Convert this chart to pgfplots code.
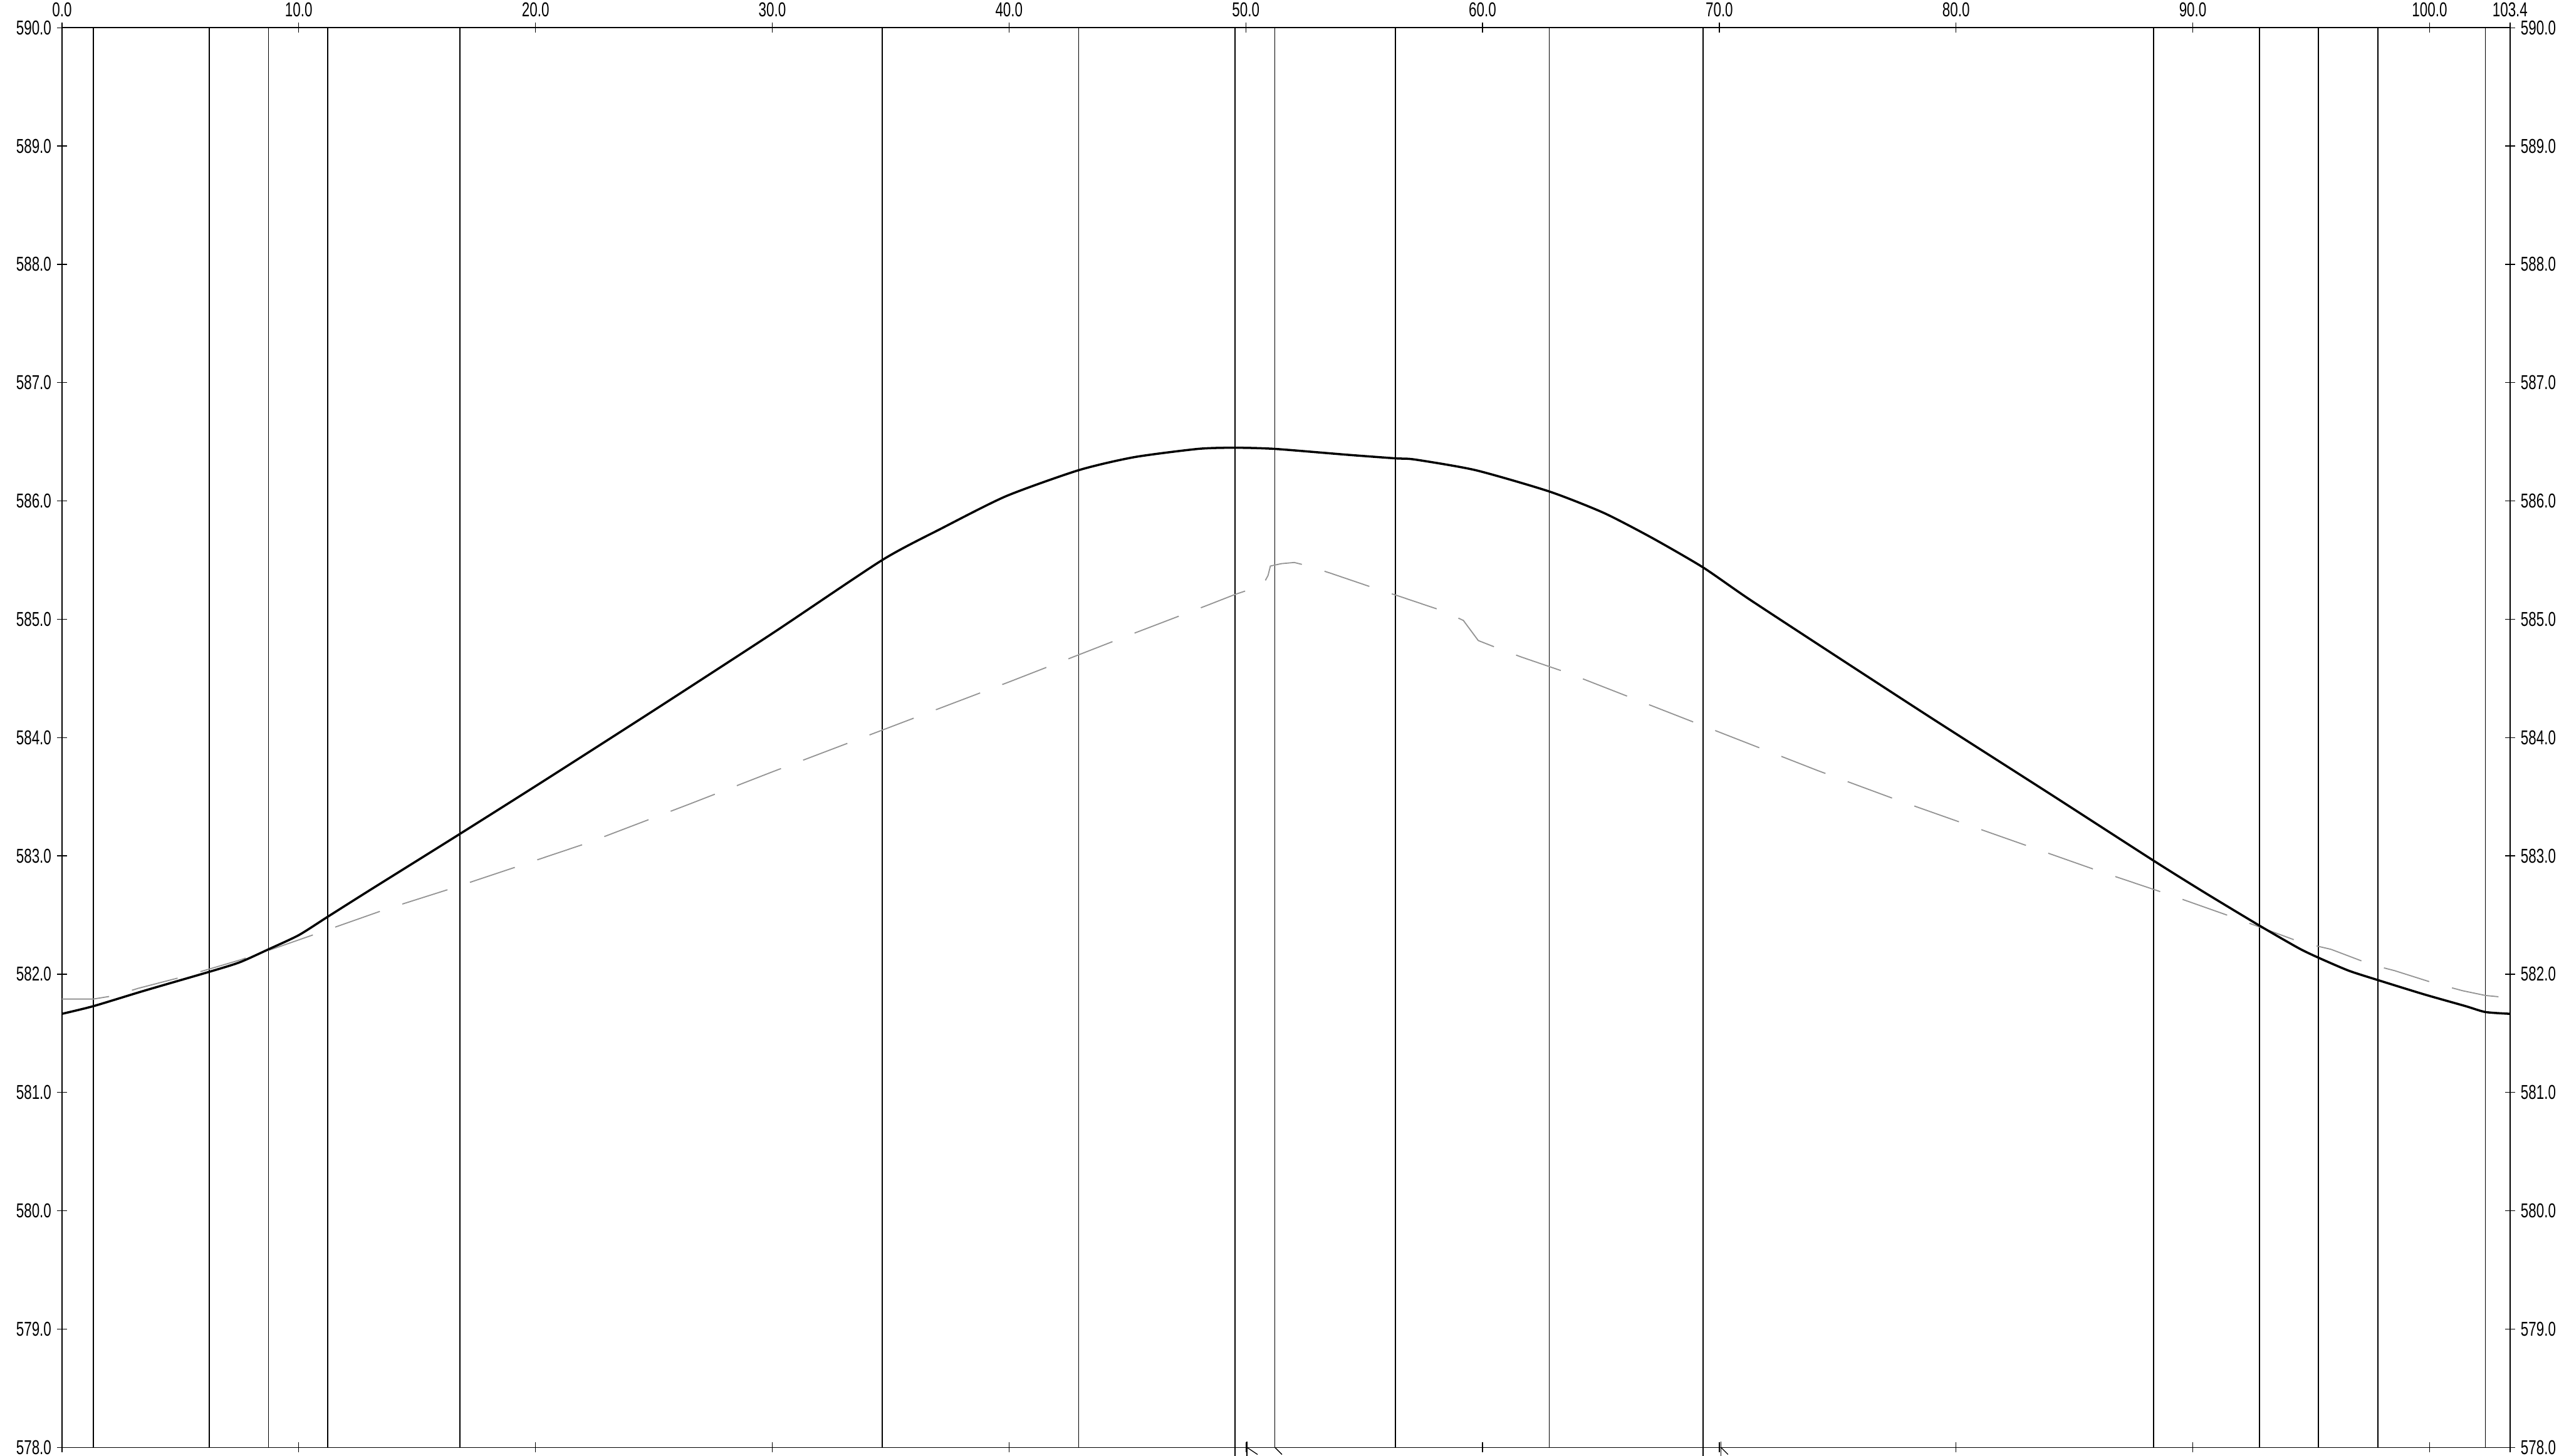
\documentclass[border=0pt]{standalone}
\usepackage{fontspec}
\setmainfont{Liberation Sans}[FakeStretch=0.7]
\usepackage{pgfplots}
\usepackage{pgfplotstable}
\pgfplotsset{compat=1.18}

\definecolor{groundgray}{gray}{0.58}

% station lines (x, from bottom to top, nan between)
\pgfplotstableread{
x y
1.33 578
1.33 590
nan nan
6.22 578
6.22 590
nan nan
8.72 578
8.72 590
nan nan
11.22 578
11.22 590
nan nan
16.80 578
16.80 590
nan nan
34.64 578
34.64 590
nan nan
42.94 578
42.94 590
nan nan
49.54 577.93
49.54 590
nan nan
51.23 578
51.23 590
nan nan
56.32 578
56.32 590
nan nan
62.82 578
62.82 590
nan nan
69.32 577.93
69.32 590
nan nan
88.34 578
88.34 590
nan nan
92.82 578
92.82 590
nan nan
95.31 578
95.31 590
nan nan
97.82 578
97.82 590
nan nan
102.36 578
102.36 590
}\stations

% existing ground (grey dashed)
\pgfplotstableread{
x y
0 581.79
1.33 581.79
2.25 581.82
3.21 581.88
5.14 581.98
7.52 582.12
9.00 582.22
10.86 582.35
13.70 582.55
16.54 582.73
19.38 582.92
22.21 583.11
26.53 583.44
30.00 583.71
35.00 584.09
40.00 584.47
45.00 584.86
48.40 585.12
49.55 585.21
50.30 585.26
50.75 585.30
50.94 585.37
51.04 585.45
51.50 585.47
52.05 585.48
52.64 585.45
53.57 585.39
55.48 585.26
56.40 585.20
58.33 585.07
59.19 584.99
59.82 584.82
60.71 584.75
61.65 584.68
63.55 584.55
74.17 583.72
77.55 583.47
80.38 583.27
83.22 583.07
86.06 582.87
88.89 582.68
91.72 582.48
94.56 582.27
95.84 582.21
97.55 582.08
98.52 582.03
100.10 581.93
101.40 581.86
102.36 581.82
103.40 581.80
}\ground

% design profile (black)
\pgfplotstableread{
x y
0 581.665
1.33 581.73
3.47 581.86
6.22 582.02
7.50 582.10
8.72 582.21
10.00 582.33
11.22 582.485
13.00 582.71
16.84 583.19
20.32 583.63
25.00 584.23
30.00 584.88
34.64 585.50
37.17 585.77
39.87 586.04
42.94 586.26
45.28 586.37
47.98 586.44
49.54 586.45
51.23 586.44
54.31 586.39
56.33 586.36
57.15 586.35
59.71 586.26
62.82 586.08
65.11 585.90
67.14 585.69
69.30 585.44
71.26 585.17
75.00 584.68
79.00 584.16
84.00 583.52
88.34 582.96
90.50 582.69
92.82 582.41
94.47 582.22
95.30 582.14
96.58 582.03
97.82 581.95
99.76 581.83
101.52 581.73
102.36 581.68
103.40 581.665
}\profile

\begin{document}
\begin{tikzpicture}
\pgfplotsset{
    every axis/.append style={
        scale only axis,
        width=1500pt, height=870pt,
        xmin=0, xmax=103.4,
        ymin=578, ymax=590,
        ytick={578,579,...,590},
        tick align=center,
        major tick length=6pt,
        tick style={black, line width=0.5pt},
        axis line style={black, line width=0.6pt},
        tick label style={font=\fontsize{12.3}{14}\selectfont},
        /pgf/number format/fixed,
        /pgf/number format/fixed zerofill,
        /pgf/number format/precision=1,
        /pgf/number format/assume math mode=true,
    },
}
\begin{axis}[
    clip=false,
    xtick={0,10,...,100,103.4},
    xticklabel pos=upper,
    yticklabel pos=left,
    unbounded coords=jump,
]
\addplot [black, line width=0.6pt] table {\stations};
\addplot [groundgray, line width=0.7pt, dash pattern=on 29pt off 14.5pt] table {\ground};
\addplot [black, line width=1.35pt, smooth, tension=0.4] table {\profile};
% little break marks under the base line
\addplot [black, line width=0.5pt] coordinates {(50.05,578.05) (50.05,577.93)};
\addplot [black, line width=0.5pt] coordinates {(50.05,578.0) (50.50,577.94)};
\addplot [black, line width=0.5pt] coordinates {(51.23,578.0) (51.53,577.94)};
\addplot [black, line width=0.5pt] coordinates {(70.07,578.05) (70.07,577.93)};
\addplot [black, line width=0.5pt] coordinates {(70.07,578.0) (70.37,577.94)};
\end{axis}
\begin{axis}[
    axis x line=none,
    axis y line*=right,
    yticklabel pos=right,
    xtick=\empty,
]
\end{axis}
\pgfresetboundingbox
\path (-38pt,-5pt) rectangle (1530pt,887pt);
\end{tikzpicture}
\end{document}
